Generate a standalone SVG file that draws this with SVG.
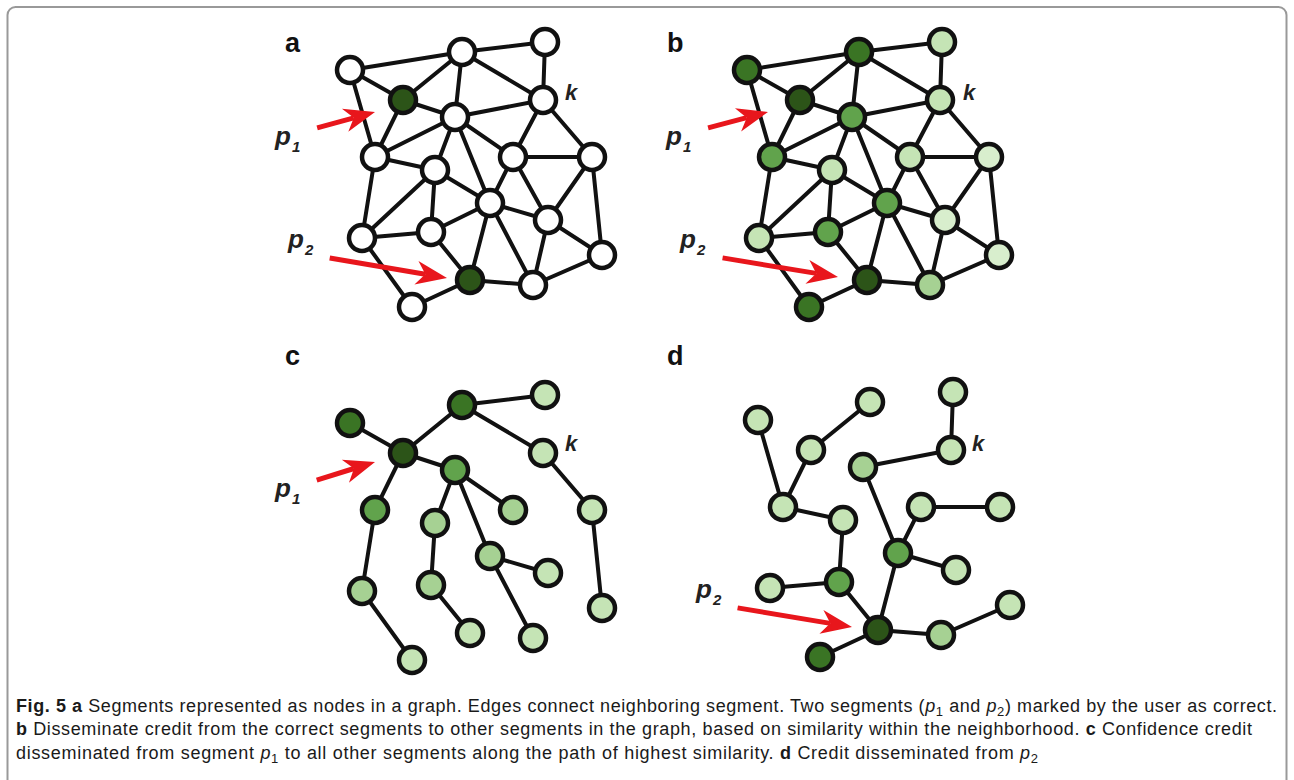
<svg xmlns="http://www.w3.org/2000/svg" xmlns:xlink="http://www.w3.org/1999/xlink" width="1294" height="780" viewBox="0 0 1294 780">
  <style>
    .edges { fill: none; stroke: #111; stroke-width: 4; stroke-linecap: round; }
    .nd circle { r: 13px; stroke: #111; stroke-width: 4.5; }
    .w { fill: #ffffff; }
    .g5 { fill: #2c5418; }
    .g4 { fill: #3a7424; }
    .g3 { fill: #61a34c; }
    .g2 { fill: #a6d193; }
    .g1 { fill: #c5e4b5; }
    .g0 { fill: #d8eecd; }
    .panel-label { font-family: "Liberation Sans", Arial, sans-serif; font-weight: bold; font-size: 27px; fill: #111; }
    .k { font-family: "Liberation Sans", Arial, sans-serif; font-weight: bold; font-style: italic; font-size: 22px; fill: #222; }
    .p { font-family: "Liberation Sans", Arial, sans-serif; font-weight: bold; font-style: italic; font-size: 26px; fill: #222; }
    .p .sub { font-size: 15px; }
    .arrow line { stroke: #e8161c; stroke-width: 5; }
    .arrow use { fill: #e8161c; }
    .cap { font-family: "Liberation Sans", Arial, sans-serif; font-size: 18px; fill: #1a1a1a; }
    .cap .b { font-weight: bold; }
    .cap .i { font-style: italic; }
    .cap .s { font-size: 13px; }
  </style>
  <defs>
    <path id="ahead" d="M0,0 L-31,-12 L-22,0 L-31,12 Z"/>
  </defs>

  <rect width="1294" height="780" fill="#fff"/>
  <rect x="7.5" y="7" width="1279" height="800" rx="8" fill="none" stroke="#999" stroke-width="2"/>

  <!-- panel a: full neighbourhood graph -->
  <g id="panel-a">
    <g id="edges-a" class="edges">
      <path d="M350,70L462,52 M462,52L545,42 M350,70L403,100 M350,70L375,157 M403,100L462,52 M403,100L455,117 M403,100L375,157 M462,52L455,117 M462,52L543,100 M545,42L543,100 M455,117L543,100 M455,117L375,157 M455,117L435,170 M455,117L490,203 M455,117L513,157 M543,100L513,157 M543,100L592,157 M513,157L592,157 M375,157L435,170 M375,157L362,238 M435,170L362,238 M435,170L431,232 M435,170L490,203 M490,203L513,157 M490,203L548,220 M490,203L431,232 M490,203L470,280 M490,203L533,285 M513,157L548,220 M592,157L548,220 M592,157L602,255 M548,220L533,285 M548,220L602,255 M533,285L602,255 M362,238L431,232 M362,238L412,307 M431,232L470,280 M470,280L533,285 M470,280L412,307"/>
    </g>
    <g id="a-n1" class="nd"><circle cx="350" cy="70" class="w"/></g>
    <g id="a-n2" class="nd"><circle cx="462" cy="52" class="w"/></g>
    <g id="a-n3" class="nd"><circle cx="545" cy="42" class="w"/></g>
    <g id="a-p1" class="nd"><circle cx="403" cy="100" class="g5"/></g>
    <g id="a-n5" class="nd"><circle cx="455" cy="117" class="w"/></g>
    <g id="a-k" class="nd"><circle cx="543" cy="100" class="w"/></g>
    <g id="a-n7" class="nd"><circle cx="375" cy="157" class="w"/></g>
    <g id="a-n8" class="nd"><circle cx="435" cy="170" class="w"/></g>
    <g id="a-n9" class="nd"><circle cx="490" cy="203" class="w"/></g>
    <g id="a-n10" class="nd"><circle cx="513" cy="157" class="w"/></g>
    <g id="a-n11" class="nd"><circle cx="592" cy="157" class="w"/></g>
    <g id="a-n12" class="nd"><circle cx="548" cy="220" class="w"/></g>
    <g id="a-n13" class="nd"><circle cx="362" cy="238" class="w"/></g>
    <g id="a-n14" class="nd"><circle cx="431" cy="232" class="w"/></g>
    <g id="a-p2" class="nd"><circle cx="470" cy="280" class="g5"/></g>
    <g id="a-n16" class="nd"><circle cx="533" cy="285" class="w"/></g>
    <g id="a-n17" class="nd"><circle cx="602" cy="255" class="w"/></g>
    <g id="a-n18" class="nd"><circle cx="412" cy="307" class="w"/></g>
    <text class="panel-label" x="285" y="52">a</text>
    <text class="k" x="565" y="100">k</text>
    <text class="p" x="275" y="145">p<tspan class="sub" dx="1" dy="7">1</tspan></text>
    <text class="p" x="288" y="248">p<tspan class="sub" dx="1" dy="7">2</tspan></text>
    <g class="arrow" transform="translate(375,112) rotate(-15.4)"><line x1="-60" y1="0" x2="-22" y2="0"/><use xlink:href="#ahead"/></g>
    <g class="arrow" transform="translate(447,278) rotate(9.7)"><line x1="-119" y1="0" x2="-22" y2="0"/><use xlink:href="#ahead"/></g>
  </g>

  <!-- panel b: credit spread over the neighbourhood -->
  <g id="panel-b">
    <g id="edges-b" class="edges" transform="translate(397,0)">
      <path d="M350,70L462,52 M462,52L545,42 M350,70L403,100 M350,70L375,157 M403,100L462,52 M403,100L455,117 M403,100L375,157 M462,52L455,117 M462,52L543,100 M545,42L543,100 M455,117L543,100 M455,117L375,157 M455,117L435,170 M455,117L490,203 M455,117L513,157 M543,100L513,157 M543,100L592,157 M513,157L592,157 M375,157L435,170 M375,157L362,238 M435,170L362,238 M435,170L431,232 M435,170L490,203 M490,203L513,157 M490,203L548,220 M490,203L431,232 M490,203L470,280 M490,203L533,285 M513,157L548,220 M592,157L548,220 M592,157L602,255 M548,220L533,285 M548,220L602,255 M533,285L602,255 M362,238L431,232 M362,238L412,307 M431,232L470,280 M470,280L533,285 M470,280L412,307"/>
    </g>
    <g transform="translate(397,0)">
      <g id="b-n1" class="nd"><circle cx="350" cy="70" class="g4"/></g>
      <g id="b-n2" class="nd"><circle cx="462" cy="52" class="g4"/></g>
      <g id="b-n3" class="nd"><circle cx="545" cy="42" class="g1"/></g>
      <g id="b-p1" class="nd"><circle cx="403" cy="100" class="g5"/></g>
      <g id="b-n5" class="nd"><circle cx="455" cy="117" class="g3"/></g>
      <g id="b-k" class="nd"><circle cx="543" cy="100" class="g1"/></g>
      <g id="b-n7" class="nd"><circle cx="375" cy="157" class="g3"/></g>
      <g id="b-n8" class="nd"><circle cx="435" cy="170" class="g1"/></g>
      <g id="b-n9" class="nd"><circle cx="490" cy="203" class="g3"/></g>
      <g id="b-n10" class="nd"><circle cx="513" cy="157" class="g1"/></g>
      <g id="b-n11" class="nd"><circle cx="592" cy="157" class="g0"/></g>
      <g id="b-n12" class="nd"><circle cx="548" cy="220" class="g0"/></g>
      <g id="b-n13" class="nd"><circle cx="362" cy="238" class="g1"/></g>
      <g id="b-n14" class="nd"><circle cx="431" cy="232" class="g3"/></g>
      <g id="b-p2" class="nd"><circle cx="470" cy="280" class="g5"/></g>
      <g id="b-n16" class="nd"><circle cx="533" cy="285" class="g2"/></g>
      <g id="b-n17" class="nd"><circle cx="602" cy="255" class="g0"/></g>
      <g id="b-n18" class="nd"><circle cx="412" cy="307" class="g4"/></g>
    </g>
    <text class="panel-label" x="667" y="52">b</text>
    <text class="k" x="963" y="100">k</text>
    <text class="p" x="666" y="145">p<tspan class="sub" dx="1" dy="7">1</tspan></text>
    <text class="p" x="680" y="248">p<tspan class="sub" dx="1" dy="7">2</tspan></text>
    <g class="arrow" transform="translate(768,112) rotate(-14.9)"><line x1="-62" y1="0" x2="-22" y2="0"/><use xlink:href="#ahead"/></g>
    <g class="arrow" transform="translate(838,277) rotate(9.4)"><line x1="-117" y1="0" x2="-22" y2="0"/><use xlink:href="#ahead"/></g>
  </g>

  <!-- panel c: highest-similarity paths from p1 -->
  <g id="panel-c">
    <g id="edges-c" class="edges" transform="translate(0,353)">
      <path d="M350,70L403,100 M403,100L462,52 M462,52L545,42 M462,52L543,100 M403,100L455,117 M403,100L375,157 M455,117L435,170 M455,117L490,203 M455,117L513,157 M543,100L592,157 M592,157L602,255 M375,157L362,238 M362,238L412,307 M435,170L431,232 M431,232L470,280 M490,203L548,220 M490,203L533,285"/>
    </g>
    <g transform="translate(0,353)">
      <g id="c-n1" class="nd"><circle cx="350" cy="70" class="g4"/></g>
      <g id="c-n2" class="nd"><circle cx="462" cy="52" class="g4"/></g>
      <g id="c-n3" class="nd"><circle cx="545" cy="42" class="g1"/></g>
      <g id="c-p1" class="nd"><circle cx="403" cy="100" class="g5"/></g>
      <g id="c-n5" class="nd"><circle cx="455" cy="117" class="g3"/></g>
      <g id="c-k" class="nd"><circle cx="543" cy="100" class="g1"/></g>
      <g id="c-n7" class="nd"><circle cx="375" cy="157" class="g3"/></g>
      <g id="c-n8" class="nd"><circle cx="435" cy="170" class="g2"/></g>
      <g id="c-n9" class="nd"><circle cx="490" cy="203" class="g2"/></g>
      <g id="c-n10" class="nd"><circle cx="513" cy="157" class="g2"/></g>
      <g id="c-n11" class="nd"><circle cx="592" cy="157" class="g1"/></g>
      <g id="c-n12" class="nd"><circle cx="548" cy="220" class="g1"/></g>
      <g id="c-n13" class="nd"><circle cx="362" cy="238" class="g2"/></g>
      <g id="c-n14" class="nd"><circle cx="431" cy="232" class="g2"/></g>
      <g id="c-n15" class="nd"><circle cx="470" cy="280" class="g1"/></g>
      <g id="c-n16" class="nd"><circle cx="533" cy="285" class="g1"/></g>
      <g id="c-n17" class="nd"><circle cx="602" cy="255" class="g1"/></g>
      <g id="c-n18" class="nd"><circle cx="412" cy="307" class="g1"/></g>
    </g>
    <text class="panel-label" x="285" y="365">c</text>
    <text class="k" x="565" y="451">k</text>
    <text class="p" x="275" y="497">p<tspan class="sub" dx="1" dy="7">1</tspan></text>
    <g class="arrow" transform="translate(375,462) rotate(-17.2)"><line x1="-61" y1="0" x2="-22" y2="0"/><use xlink:href="#ahead"/></g>
  </g>

  <!-- panel d: highest-similarity paths from p2 -->
  <g id="panel-d">
    <g id="edges-d" class="edges" transform="translate(408,350)">
      <path d="M350,70L375,157 M403,100L462,52 M403,100L375,157 M545,42L543,100 M543,100L455,117 M455,117L490,203 M375,157L435,170 M435,170L431,232 M362,238L431,232 M431,232L470,280 M490,203L513,157 M513,157L592,157 M490,203L548,220 M490,203L470,280 M470,280L533,285 M533,285L602,255 M470,280L412,307"/>
    </g>
    <g transform="translate(408,350)">
      <g id="d-n1" class="nd"><circle cx="350" cy="70" class="g1"/></g>
      <g id="d-n2" class="nd"><circle cx="462" cy="52" class="g1"/></g>
      <g id="d-n3" class="nd"><circle cx="545" cy="42" class="g1"/></g>
      <g id="d-n4" class="nd"><circle cx="403" cy="100" class="g1"/></g>
      <g id="d-n5" class="nd"><circle cx="455" cy="117" class="g2"/></g>
      <g id="d-k" class="nd"><circle cx="543" cy="100" class="g1"/></g>
      <g id="d-n7" class="nd"><circle cx="375" cy="157" class="g1"/></g>
      <g id="d-n8" class="nd"><circle cx="435" cy="170" class="g1"/></g>
      <g id="d-n9" class="nd"><circle cx="490" cy="203" class="g3"/></g>
      <g id="d-n10" class="nd"><circle cx="513" cy="157" class="g1"/></g>
      <g id="d-n11" class="nd"><circle cx="592" cy="157" class="g1"/></g>
      <g id="d-n12" class="nd"><circle cx="548" cy="220" class="g1"/></g>
      <g id="d-n13" class="nd"><circle cx="362" cy="238" class="g1"/></g>
      <g id="d-n14" class="nd"><circle cx="431" cy="232" class="g3"/></g>
      <g id="d-p2" class="nd"><circle cx="470" cy="280" class="g5"/></g>
      <g id="d-n16" class="nd"><circle cx="533" cy="285" class="g2"/></g>
      <g id="d-n17" class="nd"><circle cx="602" cy="255" class="g1"/></g>
      <g id="d-n18" class="nd"><circle cx="412" cy="307" class="g4"/></g>
    </g>
    <text class="panel-label" x="667" y="365">d</text>
    <text class="k" x="972" y="451">k</text>
    <text class="p" x="696" y="598">p<tspan class="sub" dx="1" dy="7">2</tspan></text>
    <g class="arrow" transform="translate(852,627) rotate(9.5)"><line x1="-116" y1="0" x2="-22" y2="0"/><use xlink:href="#ahead"/></g>
  </g>

  <!-- figure caption -->
  <g id="caption" class="cap">
    <text x="16" y="712" textLength="1261" lengthAdjust="spacing"><tspan class="b">Fig. 5 a</tspan> Segments represented as nodes in a graph. Edges connect neighboring segment. Two segments (<tspan class="i">p</tspan><tspan class="s" dy="4">1</tspan><tspan dy="-4"> and </tspan><tspan class="i">p</tspan><tspan class="s" dy="4">2</tspan><tspan dy="-4">) marked by the user as correct.</tspan></text>
    <text x="16" y="735" textLength="1236" lengthAdjust="spacing"><tspan class="b">b</tspan> Disseminate credit from the correct segments to other segments in the graph, based on similarity within the neighborhood. <tspan class="b">c</tspan> Confidence credit</text>
    <text x="16" y="759" textLength="1022" lengthAdjust="spacing">disseminated from segment <tspan class="i">p</tspan><tspan class="s" dy="4">1</tspan><tspan dy="-4"> to all other segments along the path of highest similarity. </tspan><tspan class="b">d</tspan> Credit disseminated from <tspan class="i">p</tspan><tspan class="s" dy="4">2</tspan></text>
  </g>
</svg>
